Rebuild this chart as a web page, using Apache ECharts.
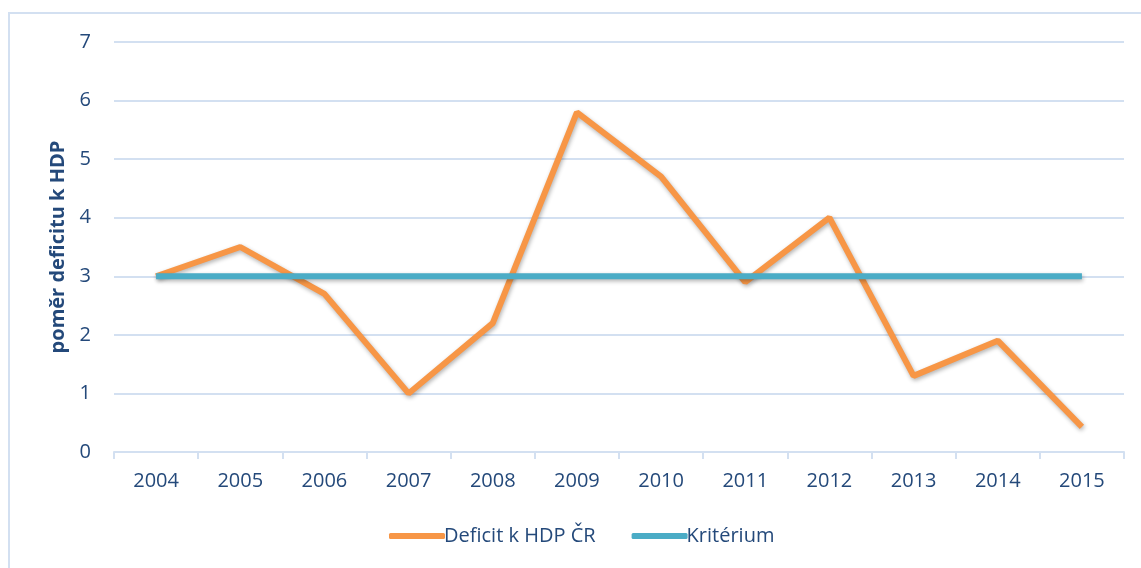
<!DOCTYPE html>
<html>
<head>
<meta charset="utf-8">
<script src="https://cdn.jsdelivr.net/npm/echarts@6/dist/echarts.min.js"></script>
<style>
  html, body { margin: 0; padding: 0; background: #fff; }
  #chart { width: 1141px; height: 568px; }
</style>
</head>
<body>
<div id="chart"></div>
<script>
// roky na ose x
const years = ['2004', '2005', '2006', '2007', '2008', '2009', '2010', '2011', '2012', '2013', '2014', '2015']
// deficit k HDP ČR
const deficit = [3.0, 3.5, 2.7, 1.0, 2.2, 5.8, 4.7, 2.9, 4.0, 1.3, 1.9, 0.43]
// maastrichtské kritérium
const kriterium = [3, 3, 3, 3, 3, 3, 3, 3, 3, 3, 3, 3]

const textColor = '#24497a'
const axisColor = '#d3e0f1'
const font = 'Open Sans'

const chart = echarts.init(document.getElementById('chart'))
const options = {
  animation: false,
  textStyle: { fontFamily: font },
  graphic: [
    {
      type: 'polyline',
      shape: { points: [[9, 568], [9, 13], [1141, 13]] },
      style: { stroke: axisColor, lineWidth: 2, fill: null }
    }
  ],
  grid: { left: 114, right: 17, top: 42, bottom: 116 },
  legend: {
    top: 521,
    left: 384,
    itemWidth: 56,
    itemHeight: 6,
    itemGap: 36,
    textStyle: { color: textColor, fontSize: 20, fontFamily: font, padding: [0, 0, 0, -6] },
    data: [
      { name: 'Deficit k HDP ČR', icon: 'roundRect' },
      { name: 'Kritérium', icon: 'roundRect' }
    ]
  },
  xAxis: {
    type: 'category',
    data: years,
    boundaryGap: true,
    axisLine: { lineStyle: { color: axisColor, width: 2 } },
    axisTick: { show: true, length: 7, lineStyle: { color: axisColor, width: 2 } },
    axisLabel: { color: textColor, fontSize: 20, margin: 19 }
  },
  yAxis: {
    type: 'value',
    min: 0,
    max: 7,
    interval: 1,
    name: 'poměr deficitu k HDP',
    nameLocation: 'middle',
    nameGap: 44,
    nameTextStyle: { color: textColor, fontSize: 20, fontWeight: 'bold', fontFamily: font },
    axisLine: { show: false },
    axisTick: { show: false },
    axisLabel: { color: textColor, fontSize: 20, margin: 23 },
    splitLine: { lineStyle: { color: axisColor, width: 2 } }
  },
  series: [
    {
      name: 'Deficit k HDP ČR',
      type: 'line',
      data: deficit,
      color: '#f79646',
      symbol: 'none',
      lineStyle: {
        width: 6,
        color: '#f79646',
        shadowColor: 'rgba(0,0,0,0.3)',
        shadowBlur: 4,
        shadowOffsetX: 1,
        shadowOffsetY: 2
      },
      z: 3
    },
    {
      name: 'Kritérium',
      type: 'line',
      data: kriterium,
      color: '#4bacc6',
      symbol: 'none',
      lineStyle: {
        width: 6,
        color: '#4bacc6',
        shadowColor: 'rgba(0,0,0,0.3)',
        shadowBlur: 4,
        shadowOffsetX: 1,
        shadowOffsetY: 2
      },
      z: 4
    }
  ]
}
chart.setOption(options)
</script>
</body>
</html>
